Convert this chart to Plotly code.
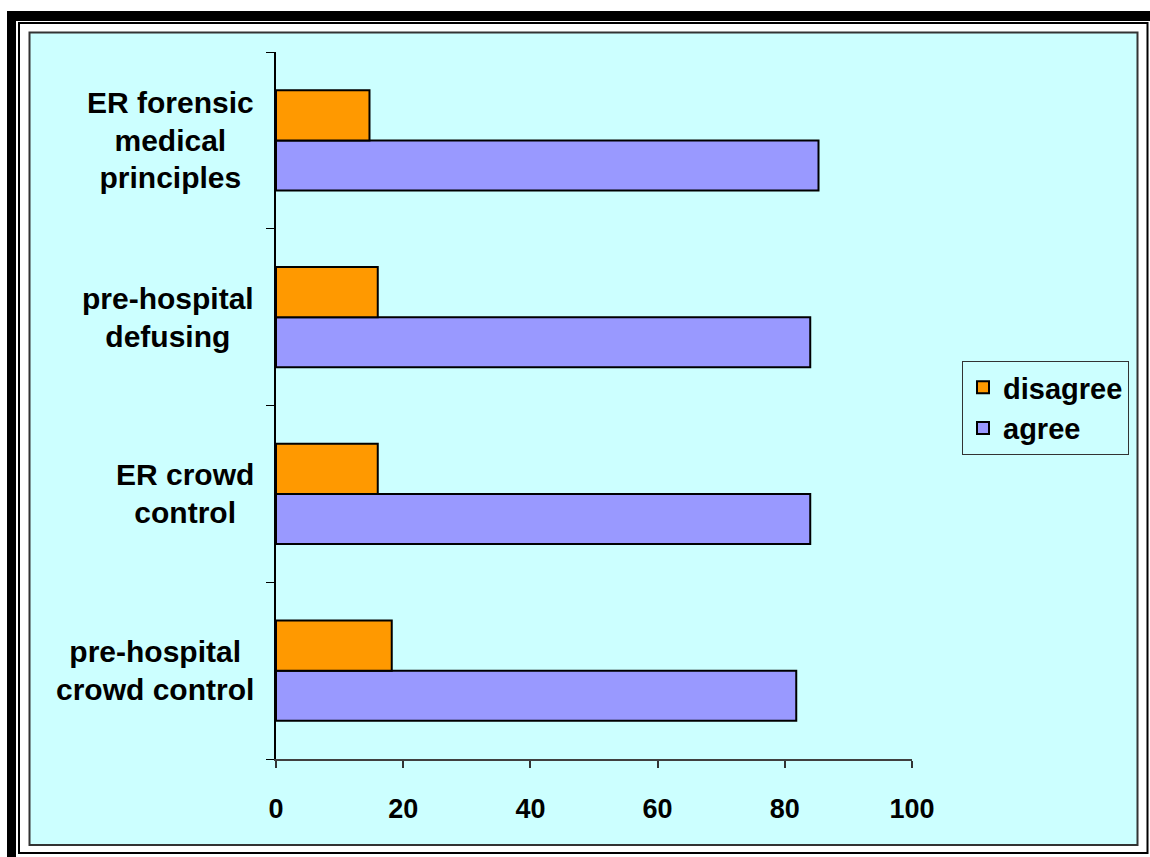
import plotly.graph_objects as go

# Survey categories (bottom to top) and response shares in percent
categories = [
    "pre-hospital crowd control",
    "ER crowd control",
    "pre-hospital defusing",
    "ER forensic medical principles",
]
category_lines = [
    ["pre-hospital", "crowd control"],
    ["ER crowd", "control"],
    ["pre-hospital", "defusing"],
    ["ER forensic", "medical", "principles"],
]
agree = [81.8, 84.0, 84.0, 85.3]
disagree = [18.2, 16.0, 16.0, 14.7]
x_ticks = [0, 20, 40, 60, 80, 100]

W, H = 1150, 857
L, R, T, B = 276, 238, 52, 98
PL, PR, PT, PB = L, W - R, T, H - B


def fx(x):
    return (x - PL) / (PR - PL)


def fy(y):
    return (PB - y) / (PB - PT)


FONT = "Arial, 'Liberation Sans', sans-serif"

fig = go.Figure()
fig.add_trace(go.Bar(
    y=categories, x=agree, orientation="h", name="agree",
    marker=dict(color="#9999FF", line=dict(color="black", width=2)),
))
fig.add_trace(go.Bar(
    y=categories, x=disagree, orientation="h", name="disagree",
    marker=dict(color="#FF9900", line=dict(color="black", width=2)),
))

shapes = [
    # heavy black frame on the left and top
    dict(type="rect", xref="paper", yref="paper", x0=fx(7), x1=fx(16),
         y0=fy(H + 5), y1=fy(11), fillcolor="black", line=dict(width=0), layer="below"),
    dict(type="rect", xref="paper", yref="paper", x0=fx(7), x1=fx(W + 5),
         y0=fy(21), y1=fy(11), fillcolor="black", line=dict(width=0), layer="below"),
    # thin inner frame
    dict(type="rect", xref="paper", yref="paper", x0=fx(19), x1=fx(1147.5),
         y0=fy(853), y1=fy(23), line=dict(color="black", width=2), layer="below"),
    # chart area background
    dict(type="rect", xref="paper", yref="paper", x0=fx(29.5), x1=fx(1137.5),
         y0=fy(845), y1=fy(32.5), fillcolor="#CCFFFF",
         line=dict(color="#333333", width=2), layer="below"),
]

annotations = []
for cat, lines in zip(categories, category_lines):
    text = "<br>".join(f"<span style='font-size:30px'>{ln}</span>" for ln in lines)
    annotations.append(dict(
        x=fx(256), xref="paper", y=cat, yref="y", xanchor="right", yanchor="middle",
        text=text, align="center", showarrow=False,
        font=dict(family=FONT, size=29, color="black", weight="bold"),
    ))

fig.update_layout(
    width=W, height=H,
    margin=dict(l=L, r=R, t=T, b=B, pad=0),
    paper_bgcolor="white",
    plot_bgcolor="rgba(0,0,0,0)",
    barmode="group", bargap=0.434, bargroupgap=0,
    shapes=shapes, annotations=annotations,
    showlegend=True,
    legend=dict(
        x=fx(962), y=fy(361), xanchor="left", yanchor="top",
        bgcolor="#CCFFFF", bordercolor="#333333", borderwidth=1,
        traceorder="reversed",
        font=dict(family=FONT, size=29, color="black", weight="bold"),
    ),
    xaxis=dict(
        range=[0, 100], tickvals=x_ticks, ticktext=[str(v) for v in x_ticks],
        showgrid=False, zeroline=False,
        showline=True, linecolor="#404040", linewidth=2,
        ticks="outside", ticklen=7, tickwidth=1.5, tickcolor="#333333",
        ticklabelstandoff=18,
        tickfont=dict(family=FONT, size=27, color="black", weight="bold"),
        fixedrange=True,
    ),
    yaxis=dict(
        showgrid=False, zeroline=False, showticklabels=False,
        showline=True, linecolor="black", linewidth=1.5,
        ticks="outside", tickson="boundaries", ticklen=8, tickwidth=1,
        tickcolor="black", fixedrange=True,
    ),
)

fig.write_html("out.html")
